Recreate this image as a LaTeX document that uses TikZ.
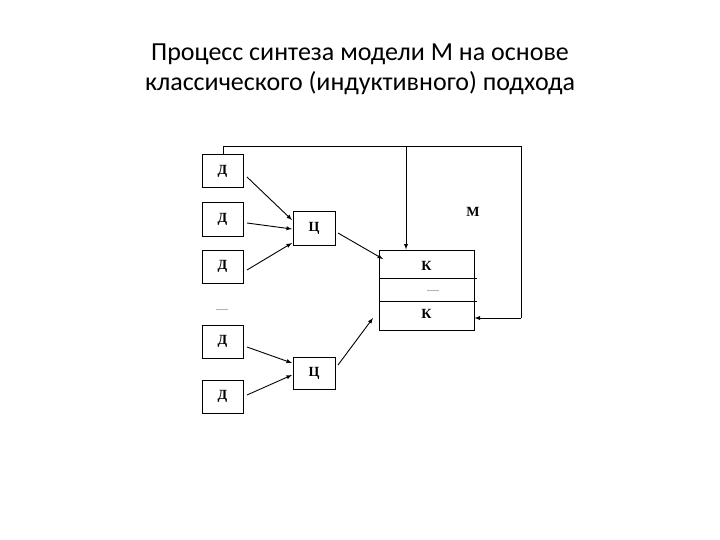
\documentclass[tikz,border=0pt]{standalone}
\usepackage{fontspec}
\setmainfont{Carlito}
\newfontfamily\serf{Liberation Serif}
\begin{document}
\begin{tikzpicture}[x=1pt,y=-1pt,
  bx/.style={draw,line width=1pt,minimum width=41pt,minimum height=33pt,inner sep=0pt,font=\serf\bfseries\fontsize{14}{14}\selectfont},
  ar/.style={-latex,line width=0.9pt},
  ln/.style={line width=0.9pt}]
\useasboundingbox (0,0) rectangle (720,540);
\node[font=\fontsize{26}{30}\selectfont,align=center] (title) at (360,69) {Процесс синтеза модели М на основе\\классического (индуктивного) подхода};
\node[bx] (d1) at (222.5,171.5) {Д};
\node[bx] (d2) at (222.5,219.5) {Д};
\node[bx] (d3) at (222.5,266.5) {Д};
\node[bx] (d4) at (222.5,341.5) {Д};
\node[bx] (d5) at (222.5,396.5) {Д};
\node[bx,minimum width=42pt] (c1) at (314,228.5) {Ц};
\node[bx,minimum width=42pt,minimum height=32pt] (c2) at (314,373) {Ц};
\node[draw,line width=1pt,minimum width=95pt,minimum height=80pt,inner sep=0pt] (k) at (426.5,290) {};
\draw[ln] (379,278) -- (477,278);
\draw[ln] (379,301) -- (477,301);
\node[font=\serf\bfseries\fontsize{14}{14}\selectfont] (k1) at (426.5,266) {К};
\node[font=\serf\bfseries\fontsize{14}{14}\selectfont] (k2) at (426.5,314) {К};
\node[font=\serf\fontsize{8}{8}\selectfont] (kd) at (433,291) {......};
\node[font=\serf\fontsize{8}{8}\selectfont] (dd) at (222,310) {......};
\node[font=\serf\bfseries\fontsize{14}{14}\selectfont] (m) at (473,212) {М};
\coordinate (t1) at (223,146);
\coordinate (t2) at (521,146);
\coordinate (t3) at (521,318);
\coordinate (tv) at (406,146);
\draw[ln] (d1.north -| t1) -- (t1) -- (t2) -- (t3);
\draw[ar] (t3) -- (k.east |- t3);
\draw[ar] (tv) -- (k.north -| tv);
\draw[ar] (247,177) -- (292,220);
\draw[ar] (247,223) -- (292,229);
\draw[ar] (247,270) -- (292,243);
\draw[ar] (338,233) -- (383,259);
\draw[ar] (247,347) -- (292,363);
\draw[ar] (247,395) -- (292,375);
\draw[ar] (338,365) -- (373,318);
\end{tikzpicture}
\end{document}
